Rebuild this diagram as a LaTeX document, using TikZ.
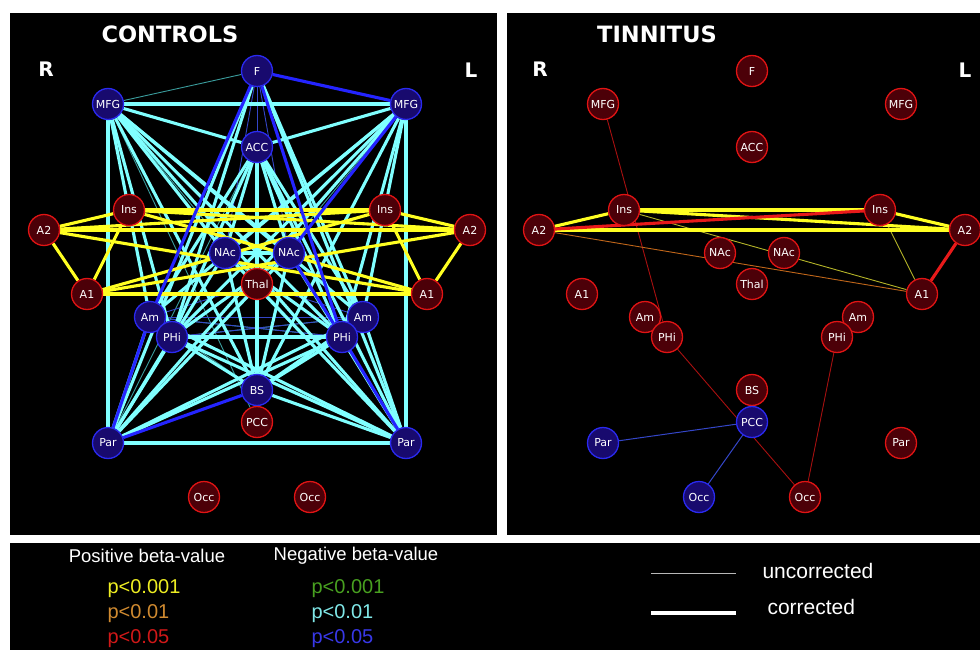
\documentclass[tikz,border=0pt]{standalone}
\usepackage{fontspec}
\setmainfont{DejaVu Sans}
\newfontfamily\legendfont{Liberation Sans}
\usepackage{xcolor}
\usepackage{tikz}

\definecolor{nodeblue}{HTML}{180A6E}
\definecolor{rimblue}{HTML}{2A2AF0}
\definecolor{nodered}{HTML}{4C0008}
\definecolor{rimred}{HTML}{E01414}
\definecolor{cyanline}{HTML}{80FFFF}
\definecolor{tealline}{HTML}{3A9C9C}
\definecolor{blueline}{HTML}{2424FF}
\definecolor{dimblue}{HTML}{3446C8}
\definecolor{yellowline}{HTML}{FFFF22}
\definecolor{oliveline}{HTML}{B4B428}
\definecolor{orangeline}{HTML}{C0661A}
\definecolor{redline}{HTML}{E81A1A}
\definecolor{dimred}{HTML}{A81010}
\definecolor{legyellow}{HTML}{EEEE22}
\definecolor{legorange}{HTML}{D08A30}
\definecolor{legred}{HTML}{D01818}
\definecolor{leggreen}{HTML}{48A020}
\definecolor{legcyan}{HTML}{80E8E8}
\definecolor{legblue}{HTML}{3838E8}
\definecolor{leggray}{HTML}{B8B8B8}

\pgfdeclarelayer{panel}
\pgfdeclarelayer{links}
\pgfsetlayers{panel,links,main}

\tikzset{
	region/.style={circle, minimum size=31pt, inner sep=0pt, line width=1.3pt, text=white, font=\fontsize{11}{11}\selectfont},
	bnode/.style={region, fill=nodeblue, draw=rimblue},
	rnode/.style={region, fill=nodered, draw=rimred},
	headline/.style={text=white, font=\bfseries\fontsize{22.5}{22.5}\selectfont},
	sideline/.style={text=white, font=\bfseries\fontsize{20}{20}\selectfont},
	negunc/.style={draw=tealline, line width=0.9pt},
	neguncb/.style={draw=dimblue, line width=0.9pt},
	negcor/.style={draw=cyanline, line width=3.1pt},
	negcorb/.style={draw=blueline, line width=3.1pt},
	poscor/.style={draw=yellowline, line width=3.1pt},
	posthin/.style={draw=oliveline, line width=0.9pt},
	orthin/.style={draw=orangeline, line width=0.9pt},
	redcor/.style={draw=redline, line width=3.1pt},
	redthin/.style={draw=dimred, line width=0.9pt},
	bluethin/.style={draw=dimblue, line width=1pt},
	legtext/.style={font=\legendfont\fontsize{18.5}{18.5}\selectfont},
	legp/.style={anchor=west, font=\legendfont\fontsize{20}{20}\selectfont}
}

\begin{document}
\begin{tikzpicture}[x=1pt, y=-1pt]
	\useasboundingbox (0,0) rectangle (980,650);

	\begin{pgfonlayer}{panel}
		\fill[white] (0,0) rectangle (980,650);
		\fill[black] (10,13) rectangle (497,535);
		\fill[black] (507,13) rectangle (980,535);
		\fill[black] (10,543) rectangle (980,650);
	\end{pgfonlayer}

	\node[headline] (ctitle) at (170,34) {CONTROLS};
	\node[headline] (ttitle) at (657,34) {TINNITUS};
	\node[sideline] (cR) at (46,69) {R};
	\node[sideline] (cL) at (471,70) {L};
	\node[sideline] (tR) at (540,69) {R};
	\node[sideline] (tL) at (965,70) {L};

	\foreach \n/\x/\y/\t/\cs/\ts in {
		F/257/71/F/bnode/rnode,
		MFGr/108/104/MFG/bnode/rnode,
		MFGl/406/104/MFG/bnode/rnode,
		ACC/257/147/ACC/bnode/rnode,
		Insr/129/210/Ins/rnode/rnode,
		Insl/385/210/Ins/rnode/rnode,
		A2r/44/230/A2/rnode/rnode,
		A2l/470/230/A2/rnode/rnode,
		NAcr/225/253/NAc/bnode/rnode,
		NAcl/289/253/NAc/bnode/rnode,
		Thal/257/284/Thal/rnode/rnode,
		A1r/87/294/A1/rnode/rnode,
		A1l/427/294/A1/rnode/rnode,
		Amr/150/317/Am/bnode/rnode,
		Aml/363/317/Am/bnode/rnode,
		PHir/172/337/PHi/bnode/rnode,
		PHil/342/337/PHi/bnode/rnode,
		BS/257/390/BS/bnode/rnode,
		PCC/257/422/PCC/rnode/bnode,
		Parr/108/443/Par/bnode/bnode,
		Parl/406/443/Par/bnode/rnode,
		Occr/204/497/Occ/rnode/bnode,
		Occl/310/497/Occ/rnode/rnode}{
		\node[\cs] (c-\n) at (\x,\y) {\t};
		\node[\ts] (t-\n) at (\x+495,\y) {\t};
	}

	\begin{pgfonlayer}{links}
		% controls
		\foreach \a/\b in {F/MFGr, MFGr/Thal, Parr/Thal, Parr/NAcl, Parr/Aml, Parl/NAcr, Parl/Thal, Amr/BS, ACC/Thal, MFGl/Thal, PHir/Aml, Amr/PHil, Parr/ACC, Parl/F, MFGr/PCC, Parr/BS}
			\draw[negunc] (c-\a) -- (c-\b);
		\foreach \a/\b in {F/ACC, F/NAcr, F/NAcl, F/BS, Amr/Aml, PHir/Aml, NAcr/PHil, NAcl/PHir, Thal/Amr, Thal/Aml, BS/NAcr, BS/NAcl, Thal/BS, Amr/PHil}
			\draw[neguncb] (c-\a) -- (c-\b);
		\foreach \a/\b in {MFGr/MFGl, MFGr/ACC, MFGl/ACC, MFGr/Parr, MFGl/Parl, Parr/Parl,
			MFGr/NAcr, MFGr/NAcl, MFGr/Amr, MFGr/PHir, MFGr/Aml, MFGr/PHil, MFGr/BS, MFGr/Parl,
			MFGl/NAcr, MFGl/Amr, MFGl/PHir, MFGl/Aml, MFGl/PHil, MFGl/BS, MFGl/Parr,
			F/Parr, F/Parl, F/Aml, F/PHir,
			ACC/NAcr, ACC/NAcl, ACC/Amr, ACC/Aml, ACC/PHir, ACC/PHil, ACC/BS, ACC/Parl,
			NAcr/NAcl, NAcr/PHil, NAcl/PHir, NAcr/BS, NAcl/BS, NAcr/Parr, NAcl/Parl, NAcr/Parl, NAcl/Parr,
			PHir/PHil, PHir/BS, PHil/BS, Aml/BS,
			Amr/Parr, PHir/Parr, Aml/Parl, Amr/Parl, PHir/Parl, Aml/Parr, PHil/Parr, BS/Parl}
			\draw[negcor] (c-\a) -- (c-\b);
		\foreach \a/\b in {A2r/Insr, A2r/A1r, Insr/A1r, A2r/Insl, A2r/A2l, A2r/A1l, Insr/Insl, Insr/A2l, Insr/A1l,
			A1r/A1l, A1r/A2l, A1r/Insl, A2l/Insl, A2l/A1l, Insl/A1l}
			\draw[poscor] (c-\a) -- (c-\b);
		\foreach \a/\b in {F/MFGl, F/Amr, Amr/Parr, F/PHil, PHil/Parl, MFGl/NAcl, BS/Parr, NAcl/PHil}
			\draw[negcorb] (c-\a) -- (c-\b);
		% tinnitus
		\foreach \a/\b in {MFGr/PHir, PHir/Occl, PHil/Occl}
			\draw[redthin] (t-\a) -- (t-\b);
		\draw[orthin] (t-A2r) -- (t-A1l);
		\foreach \a/\b in {Insr/A1l, Insl/A1l}
			\draw[posthin] (t-\a) -- (t-\b);
		\foreach \a/\b in {Parr/PCC, Occr/PCC}
			\draw[bluethin] (t-\a) -- (t-\b);
		\foreach \a/\b in {A2r/Insr, Insr/Insl, A2r/A2l, Insl/A2l, Insr/A2l}
			\draw[poscor] (t-\a) -- (t-\b);
		\foreach \a/\b in {A2r/Insl, A2l/A1l}
			\draw[redcor] (t-\a) -- (t-\b);
	\end{pgfonlayer}

	\node[legtext, text=white] (pos) at (147,556) {Positive beta-value};
	\node[legtext, text=white] (neg) at (356,556) {Negative beta-value};
	\node[legp, text=legyellow] (p1) at (104,589) {p<0.001};
	\node[legp, text=legorange] (p2) at (104,614) {p<0.01};
	\node[legp, text=legred] (p3) at (104,639) {p<0.05};
	\node[legp, text=leggreen] (n1) at (308,589) {p<0.001};
	\node[legp, text=legcyan] (n2) at (308,614) {p<0.01};
	\node[legp, text=legblue] (n3) at (308,639) {p<0.05};

	\coordinate (u0) at (651,573);
	\coordinate (u1) at (736,573);
	\coordinate (k0) at (651,613);
	\coordinate (k1) at (736,613);
	\draw[leggray, line width=1pt] (u0) -- (u1);
	\draw[white, line width=3.2pt] (k0) -- (k1);
	\node[legp, font=\legendfont\fontsize{21}{21}\selectfont, text=white] (unc) at (759,571) {uncorrected};
	\node[legp, font=\legendfont\fontsize{21}{21}\selectfont, text=white] (cor) at (764,607) {corrected};
\end{tikzpicture}
\end{document}
